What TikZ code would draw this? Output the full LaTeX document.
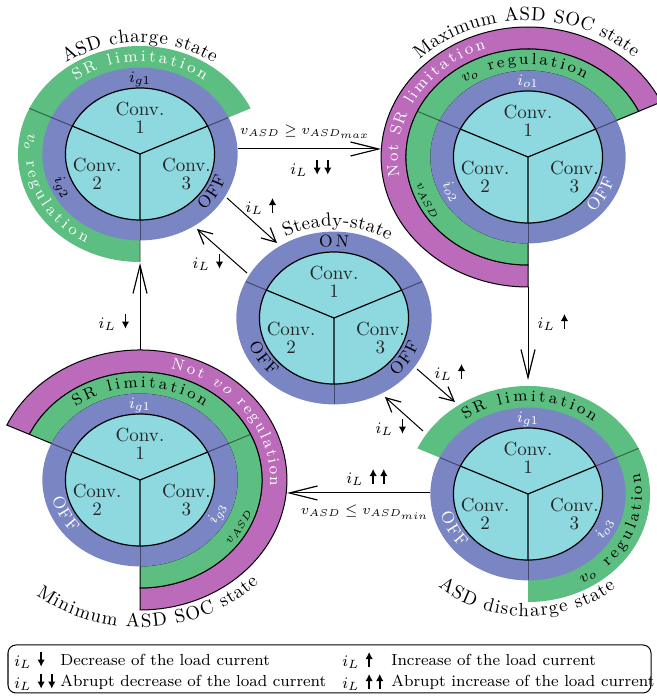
\documentclass[tikz,border=0pt]{standalone}
\usetikzlibrary{arrows.meta}
\definecolor{cyanf}{RGB}{142,216,224}
\definecolor{bluef}{RGB}{122,133,196}
\definecolor{greenf}{RGB}{92,190,128}
\definecolor{purplef}{RGB}{188,106,186}
\newcommand\fring{\fontsize{8}{9}\selectfont}
\newcommand\ftitle{\fontsize{9.5}{11}\selectfont}
\newcommand\fconv{\fontsize{9.5}{9}\selectfont}
\newcommand\fsmall{\fontsize{6.5}{7}\selectfont}
\newcommand\foff{\fontsize{8.5}{9}\selectfont}
\newcommand\flab{\fontsize{8.5}{9}\selectfont}
\newcommand\fleg{\fontsize{8}{9}\selectfont}
% capture the real font identifiers for measuring inside the picture
\newcommand\capfont[2]{\begingroup#2\expandafter\endgroup\expandafter\let\expandafter#1\the\font}
\capfont\mring\fring
\capfont\mtitle\ftitle
\capfont\msmall\fsmall
\capfont\moff\foff
\newcommand\uar{\tikz[baseline=0pt]\draw[line width=0.9pt,-{Latex[length=3.6pt,width=3.8pt]}](0,-0.2pt)--(0,7.2pt);}
\newcommand\dar{\tikz[baseline=0pt]\draw[line width=0.9pt,-{Latex[length=3.6pt,width=3.8pt]}](0,7.2pt)--(0,-0.2pt);}
\makeatletter
\newdimen\atcw \newdimen\atacc \newdimen\atmid \newdimen\atunit
\atunit=0.5pt
% text along an elliptic arc, one character per node
% #1 centre, #2 radius, #3 mid angle, #4 dir (1 cw / -1 ccw), #5 font name, #6 colour, #7 extra spacing (px), #8 characters
\newcommand\arctext[8]{%
  \begingroup
  \global\atacc=0pt
  \foreach \ch in {#8}{%
    \setbox0\hbox{\csname f#5\endcsname\csname m#5\endcsname\ch}%
    \global\advance\atacc by \wd0
    \global\advance\atacc by #7\atunit
  }%
  \global\advance\atacc by -#7\atunit
  \edef\atL{\strip@pt\atacc}%
  \pgfmathsetmacro\atR{0.5*#2*sqrt(1.2769*pow(sin(#3),2)+pow(cos(#3),2))}%
  \pgfmathsetmacro\atA{#3+(#4)*(\atL/2)/\atR*57.29578}%
  \global\atacc=0pt
  \foreach \ch in {#8}{%
    \setbox0\hbox{\csname f#5\endcsname\csname m#5\endcsname\ch}%
    \global\atcw=\wd0
    \global\atmid=\dimexpr\atacc+\atcw/2\relax
    \edef\atc{\strip@pt\atmid}%
    \pgfmathsetmacro\atang{\atA-(#4)*\atc/\atR*57.29578}%
    \ifnum#4>0
      \pgfmathsetmacro\atrot{atan2(-cos(\atang),1.13*sin(\atang))}%
    \else
      \pgfmathsetmacro\atrot{atan2(cos(\atang),-1.13*sin(\atang))}%
    \fi
    \path[shift={(#1)},xscale=1.13] (\atang:#2) node[inner sep=0pt,anchor=mid,rotate=\atrot,text=#6,font=\csname f#5\endcsname]{\ch};%
    \global\advance\atacc by \atcw
    \global\advance\atacc by #7\atunit
  }%
  \endgroup
}
\makeatother
\newcommand\sect[6]{\path[#6,shift={(#1)},xscale=1.13] (#4:#2) arc[start angle=#4,end angle=#5,radius=#2] -- (#5:#3) arc[start angle=#5,end angle=#4,radius=#3] -- cycle;}
\newcommand\basering[1]{%
  \fill[bluef,shift={(#1)},xscale=1.13] (0,0) circle (86.4);
  \foreach \a in {25,155,270}{\draw[divider,shift={(#1)},xscale=1.13] (\a:66) -- (\a:86);}
  \filldraw[fill=cyanf,draw=black,line width=0.6pt,shift={(#1)},xscale=1.13] (0,0) circle (66);
  \draw[line width=0.6pt,shift={(#1)},xscale=1.13] (25:66) -- (0,0) -- (155:66) (0,0) -- (270:66);
  \path[shift={(#1)},xscale=1.13] (0,36) node[conv] (#1c1) {Conv.\\1} (-38,-20) node[conv] (#1c2) {Conv.\\2} (41,-20) node[conv] (#1c3) {Conv.\\3};
}
\tikzset{
  divider/.style={draw=black,draw opacity=0.45,line width=0.5pt},
  conv/.style={font=\fconv,align=center,inner sep=0pt,text=black!85},
  conn/.style={line width=0.5pt,-{Straight Barb[length=14pt,width=7pt,line width=0.6pt]}},
  connd/.style={line width=0.5pt,-{Straight Barb[length=7pt,width=7pt,line width=0.6pt]}},
  lab/.style={font=\flab,inner sep=1pt},
  leg/.style={font=\fleg,inner sep=0pt,anchor=west}
}
\begin{document}
\begin{tikzpicture}[x=0.5pt,y=0.5pt]
\useasboundingbox (0,0) rectangle (657,698);
\coordinate (TL) at (140,544);
\coordinate (TR) at (528,541);
\coordinate (C) at (334,380);
\coordinate (BL) at (140,218);
\coordinate (BR) at (528,204);

% ---------- ASD charge state (top left)
\sect{TL}{86}{108}{25}{270}{fill=greenf}
\basering{TL}
\draw[divider,shift={(TL)},xscale=1.13] (155:86)--(155:108) (270:86)--(270:108);
\arctext{TL}{97}{90}{1}{ring}{white}{3.5}{S,R,\ ,l,i,m,i,t,a,t,i,o,n}
\arctext{TL}{97}{205}{-1}{ring}{white}{2.8}{$v_o$,\ ,r,e,g,u,l,a,t,i,o,n}
\arctext{TL}{76}{90}{1}{ring}{black}{0}{$i_{g1}$}
\arctext{TL}{76}{206}{-1}{ring}{black}{0}{$i_{g2}$}
\arctext{TL}{76}{-31}{-1}{off}{black}{1}{O,F,F}
\arctext{TL}{116}{90}{1}{title}{black}{1}{A,S,D,\ ,c,h,a,r,g,e,\ ,s,t,a,t,e}

% ---------- Maximum ASD SOC state (top right)
\sect{TR}{108}{130}{25}{270}{fill=purplef,draw=black,line width=0.5pt}
\sect{TR}{86}{108}{25}{270}{fill=greenf,draw=black,line width=0.5pt}
\basering{TR}
\draw[divider,shift={(TR)},xscale=1.13] (155:86)--(155:108);
\arctext{TR}{119}{149}{1}{ring}{white}{2.5}{N,o,t,\ ,S,R,\ ,l,i,m,i,t,a,t,i,o,n}
\arctext{TR}{97}{92}{1}{ring}{black}{3.2}{$v_o$,\ ,r,e,g,u,l,a,t,i,o,n}
\arctext{TR}{97}{206}{-1}{small}{black}{0}{$v_{ASD}$}
\arctext{TR}{76}{90}{1}{ring}{white}{0}{$i_{o1}$}
\arctext{TR}{76}{207}{-1}{ring}{white}{0}{$i_{o2}$}
\arctext{TR}{76}{-30}{-1}{off}{white}{1}{O,F,F}
\arctext{TR}{141}{90.5}{1}{title}{black}{1}{M,a,x,i,m,u,m,\ ,A,S,D,\ ,S,O,C,\ ,s,t,a,t,e}

% ---------- Steady-state (centre)
\basering{C}
\arctext{C}{76}{90}{1}{off}{black}{3}{O,N}
\arctext{C}{76}{213}{-1}{off}{black}{1}{O,F,F}
\arctext{C}{76}{-33}{-1}{off}{black}{1}{O,F,F}
\arctext{C}{96}{88}{1}{title}{black}{0.8}{S,t,e,a,d,y,-,s,t,a,t,e}

% ---------- Minimum ASD SOC state (bottom left)
\sect{BL}{108}{130}{-90}{155}{fill=purplef,draw=black,line width=0.5pt}
\sect{BL}{86}{108}{-90}{155}{fill=greenf,draw=black,line width=0.5pt}
\basering{BL}
\draw[divider,shift={(BL)},xscale=1.13] (25:86)--(25:108);
\arctext{BL}{97}{90}{1}{ring}{black}{3.5}{S,R,\ ,l,i,m,i,t,a,t,i,o,n}
\arctext{BL}{119}{37}{1}{ring}{white}{2.6}{N,o,t,\ ,$v$,$o$,\ ,r,e,g,u,l,a,t,i,o,n}
\arctext{BL}{97}{-28}{-1}{small}{black}{0}{$v_{ASD}$}
\arctext{BL}{76}{90}{1}{ring}{white}{0}{$i_{g1}$}
\arctext{BL}{76}{207}{-1}{off}{white}{1}{O,F,F}
\arctext{BL}{76}{-26}{-1}{ring}{white}{0}{$i_{g3}$}
\arctext{BL}{143}{273.5}{-1}{title}{black}{1}{M,i,n,i,m,u,m,\ ,A,S,D,\ ,S,O,C,\ ,s,t,a,t,e}

% ---------- ASD discharge state (bottom right)
\sect{BR}{86}{108}{-90}{155}{fill=greenf}
\basering{BR}
\draw[divider,shift={(BR)},xscale=1.13] (25:86)--(25:108);
\arctext{BR}{97}{89}{1}{ring}{black}{3.5}{S,R,\ ,l,i,m,i,t,a,t,i,o,n}
\arctext{BR}{97}{-25}{-1}{ring}{black}{2.8}{$v_o$,\ ,r,e,g,u,l,a,t,i,o,n}
\arctext{BR}{76}{90}{1}{ring}{white}{0}{$i_{g1}$}
\arctext{BR}{76}{-27}{-1}{ring}{white}{0}{$i_{o3}$}
\arctext{BR}{76}{208}{-1}{off}{white}{1}{O,F,F}
\arctext{BR}{118}{269.5}{-1}{title}{black}{1}{A,S,D,\ ,d,i,s,c,h,a,r,g,e,\ ,s,t,a,t,e}

% ---------- transitions
\coordinate (e1s) at (238,549); \coordinate (e1e) at (381,549);
\coordinate (e2s) at (528,411); \coordinate (e2e) at (528,318);
\coordinate (e3s) at (430,205); \coordinate (e3e) at (287,205);
\coordinate (e4s) at (140,348); \coordinate (e4e) at (140,435);
\coordinate (dAs) at (227,500); \coordinate (dAe) at (277,455);
\coordinate (dBs) at (247,425); \coordinate (dBe) at (197,469);
\coordinate (dCs) at (417,329); \coordinate (dCe) at (455,296);
\coordinate (dDs) at (423,267); \coordinate (dDe) at (385,301);
\draw[conn] (e1s) -- (e1e);
\draw[conn] (e2s) -- (e2e);
\draw[conn] (e3s) -- (e3e);
\draw[conn] (e4s) -- (e4e);
\draw[connd] (dAs) -- (dAe);
\draw[connd] (dBs) -- (dBe);
\draw[connd] (dCs) -- (dCe);
\draw[connd] (dDs) -- (dDe);

\node[lab,font=\fontsize{7}{8}\selectfont] (l1a) at (305,566) {$v_{ASD}\geq v_{ASD_{max}}$};
\node[lab] (l1b) at (311,530) {$i_L$\hspace{3pt}\dar\hspace{1.5pt}\dar};
\node[lab] (l2) at (553,376) {$i_L$\hspace{3pt}\uar};
\node[lab] (l3a) at (367,221) {$i_L$\hspace{3pt}\uar\hspace{1.5pt}\uar};
\node[lab,font=\fontsize{7}{8}\selectfont] (l3b) at (365,186) {$v_{ASD}\leq v_{ASD_{min}}$};
\node[lab] (l4) at (114,376) {$i_L$\hspace{3pt}\dar};
\node[lab] (lA) at (261,492) {$i_L$\hspace{3pt}\uar};
\node[lab] (lB) at (208,436) {$i_L$\hspace{3pt}\dar};
\node[lab] (lC) at (450,326) {$i_L$\hspace{3pt}\uar};
\node[lab] (lD) at (391,271) {$i_L$\hspace{3pt}\dar};

% ---------- legend
\node[draw,rounded corners=4pt,line width=0.5pt,minimum width=321.5pt,minimum height=24pt,inner sep=0pt] (legend) at (329.5,29) {};
\node[leg] (k1) at (14,38) {$i_L$\hspace{3pt}\dar};
\node[leg] (t1) at (60,38) {Decrease of the load current};
\node[leg] (k2) at (14,16) {$i_L$\hspace{3pt}\dar\hspace{1.5pt}\dar};
\node[leg] (t2) at (60,16) {Abrupt decrease of the load current};
\node[leg] (k3) at (342,38) {$i_L$\hspace{3pt}\uar};
\node[leg] (t3) at (391,38) {Increase of the load current};
\node[leg] (k4) at (342,16) {$i_L$\hspace{3pt}\uar\hspace{1.5pt}\uar};
\node[leg] (t4) at (391,16) {Abrupt increase of the load current};
\end{tikzpicture}
\end{document}
